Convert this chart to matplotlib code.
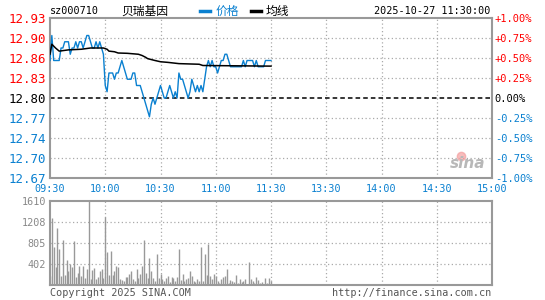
import matplotlib
matplotlib.use('Agg')
import matplotlib.pyplot as plt

# minute data 09:30 - 11:30
prices = [12.86, 12.90, 12.86, 12.86, 12.86, 12.86, 12.88, 12.88, 12.89, 12.89,
          12.89, 12.87, 12.88, 12.88, 12.89, 12.88, 12.89, 12.89, 12.88, 12.89,
          12.90, 12.90, 12.89, 12.88, 12.88, 12.89, 12.88, 12.89, 12.88, 12.87,
          12.82, 12.81, 12.84, 12.84, 12.84, 12.83, 12.84, 12.84, 12.85, 12.86,
          12.85, 12.84, 12.83, 12.83, 12.83, 12.84, 12.84, 12.82, 12.82, 12.82,
          12.81, 12.80, 12.79, 12.78, 12.77, 12.79, 12.80, 12.79, 12.80, 12.81,
          12.82, 12.81, 12.80, 12.80, 12.81, 12.82, 12.81, 12.80, 12.81, 12.80,
          12.84, 12.83, 12.83, 12.82, 12.81, 12.80, 12.81, 12.83, 12.82, 12.81,
          12.82, 12.81, 12.82, 12.81, 12.83, 12.85, 12.86, 12.85, 12.86, 12.85,
          12.85, 12.84, 12.85, 12.86, 12.86, 12.87, 12.87, 12.86, 12.85, 12.85,
          12.85, 12.85, 12.85, 12.85, 12.85, 12.86, 12.85, 12.86, 12.86, 12.86,
          12.86, 12.85, 12.86, 12.85, 12.85, 12.85, 12.85, 12.86, 12.86, 12.86,
          12.86]

volumes = [170, 1284, 722, 345, 1093, 697, 166, 863, 185, 479,
           262, 403, 345, 837, 153, 230, 364, 172, 364, 134,
           313, 1604, 115, 294, 326, 115, 153, 275, 313, 134,
           1303, 633, 192, 658, 185, 275, 358, 339, 115, 102,
           83, 153, 160, 211, 275, 121, 83, 307, 134, 211,
           358, 856, 230, 134, 518, 275, 134, 70, 600, 134,
           211, 115, 83, 134, 166, 58, 147, 134, 83, 147,
           690, 102, 211, 83, 121, 134, 275, 166, 70, 58,
           115, 83, 728, 83, 594, 185, 792, 166, 121, 211,
           172, 83, 38, 115, 153, 172, 313, 38, 102, 70,
           58, 185, 38, 115, 51, 70, 115, 26, 441, 115,
           70, 38, 153, 102, 38, 58, 19, 134, 38, 134,
           70]

avg_minutes = [0, 1, 3, 5, 10, 17, 22, 29, 31, 32, 35, 37, 42, 48, 50, 52, 53,
               57, 60, 64, 70, 81, 83, 120]
avg_prices = [12.870, 12.886, 12.880, 12.875, 12.877, 12.878, 12.880, 12.880,
              12.878, 12.875, 12.874, 12.872, 12.8715, 12.870, 12.868, 12.865,
              12.863, 12.860, 12.858, 12.857, 12.855, 12.854, 12.852, 12.851]

prev_close = 12.80
pct_ticks = [1.0, 0.75, 0.5, 0.25, 0.0, -0.25, -0.5, -0.75, -1.0]
price_labels = ['12.93', '12.90', '12.86', '12.83', '12.80', '12.77', '12.74', '12.70', '12.67']
pct_labels = ['+1.00%', '+0.75%', '+0.50%', '+0.25%', '0.00%', '-0.25%', '-0.50%', '-0.75%', '-1.00%']
time_ticks = [0, 30, 60, 90, 120, 150, 180, 210, 240]
time_labels = ['09:30', '10:00', '10:30', '11:00', '11:30', '13:30', '14:00', '14:30', '15:00']
vol_ticks = [402, 805, 1208, 1610]
vol_labels = ['402', '805', '1208', '1610']

RED = '#ff0000'
BLUE = '#0a80d0'
GRAY = '#999999'
MONO = 'DejaVu Sans Mono'
CJK = ['Noto Sans CJK SC', 'DejaVu Sans']

fig = plt.figure(figsize=(5.45, 3.0), dpi=100)
W, H = 545.0, 300.0
ax = fig.add_axes([50 / W, 1 - 178 / H, 442 / W, 160 / H])
axv = fig.add_axes([50 / W, 1 - 285 / H, 442 / W, 84 / H])


def tick_color(p):
    if p > 0:
        return RED
    if p < 0:
        return BLUE
    return 'black'


lo = prev_close * 0.99
hi = prev_close * 1.01
for a in (ax, axv):
    a.set_xlim(0, 240)
    for s in a.spines.values():
        s.set_color(GRAY)
        s.set_linewidth(1.5)
    a.tick_params(length=0)
    for t in time_ticks[1:-1]:
        a.axvline(t, color='#aaaaaa', lw=0.9, ls=(0, (1, 2)), zorder=0)

# price panel
ax.set_ylim(lo, hi)
tick_pos = [prev_close * (1 + p / 100) for p in pct_ticks]
for p, y in zip(pct_ticks, tick_pos):
    if p == 0:
        ax.axhline(y, color='black', lw=1.1, ls=(0, (3, 2)), zorder=1)
    elif abs(p) < 1:
        ax.axhline(y, color='#aaaaaa', lw=0.9, ls=(0, (1, 2)), zorder=0)

ax.set_yticks(tick_pos)
ax.set_yticklabels(price_labels, fontsize=9, family=MONO)
for lab, p in zip(ax.get_yticklabels(), pct_ticks):
    lab.set_color(tick_color(p))
ax.tick_params(axis='y', pad=3)

ax.set_xticks(time_ticks)
ax.set_xticklabels(time_labels, fontsize=7.3, family=MONO, color=BLUE)
ax.tick_params(axis='x', pad=4)

axr = ax.twinx()
axr.set_ylim(lo, hi)
axr.set_yticks(tick_pos)
axr.set_yticklabels(pct_labels, fontsize=7.5, family=MONO)
for lab, p in zip(axr.get_yticklabels(), pct_ticks):
    lab.set_color(tick_color(p))
axr.tick_params(length=0, pad=2)
for s in axr.spines.values():
    s.set_visible(False)

minutes = list(range(len(prices)))
ax.plot(minutes, prices, color=BLUE, lw=1.0, zorder=3)
ax.plot(avg_minutes, avg_prices, color='black', lw=1.1, zorder=4)

ax.text(0.985, 0.09, 'sina', transform=ax.transAxes, ha='right', va='center',
        fontsize=11, fontweight='bold', style='italic', color='#b8b8b8', family='DejaVu Sans')
ax.plot([0.93], [0.14], 'o', transform=ax.transAxes, ms=6, color='#f4a0a0', alpha=0.7)

# volume panel
axv.set_ylim(0, 1610)
for v in vol_ticks[:-1]:
    axv.axhline(v, color='#aaaaaa', lw=0.9, ls=(0, (1, 2)), zorder=0)
axv.vlines(range(len(volumes)), 0, volumes, color=GRAY, lw=1.0, zorder=2)
axv.set_yticks(vol_ticks)
axv.set_yticklabels(vol_labels, fontsize=7.3, family=MONO, color='#888888')
axv.set_xticks([])
axv.tick_params(axis='y', pad=3)

# header and footer texts
fig.text(50 / W, 1 - 11 / H, 'sz000710', fontsize=7.3, family=MONO, va='center')
fig.text(121 / W, 1 - 11 / H, '贝瑞基因', fontsize=8.5, family=CJK, va='center')
fig.lines.append(plt.Line2D([200 / W, 210 / W], [1 - 11 / H, 1 - 11 / H],
                            transform=fig.transFigure, color=BLUE, lw=2.5))
fig.text(216 / W, 1 - 11 / H, '价格', fontsize=8.5, family=CJK, va='center', color=BLUE)
fig.lines.append(plt.Line2D([251 / W, 261 / W], [1 - 11 / H, 1 - 11 / H],
                            transform=fig.transFigure, color='black', lw=2.5))
fig.text(266 / W, 1 - 11 / H, '均线', fontsize=8.5, family=CJK, va='center')
fig.text(490 / W, 1 - 11 / H, '2025-10-27 11:30:00', fontsize=7.3, family=MONO,
         va='center', ha='right')
fig.text(50 / W, 1 - 293 / H, 'Copyright 2025 SINA.COM', fontsize=7.3, family=MONO,
         va='center', color='#555555')
fig.text(491 / W, 1 - 293 / H, 'http://finance.sina.com.cn', fontsize=7.3, family=MONO,
         va='center', ha='right', color='#555555')

fig.savefig('out.png', dpi=100, facecolor='white')
